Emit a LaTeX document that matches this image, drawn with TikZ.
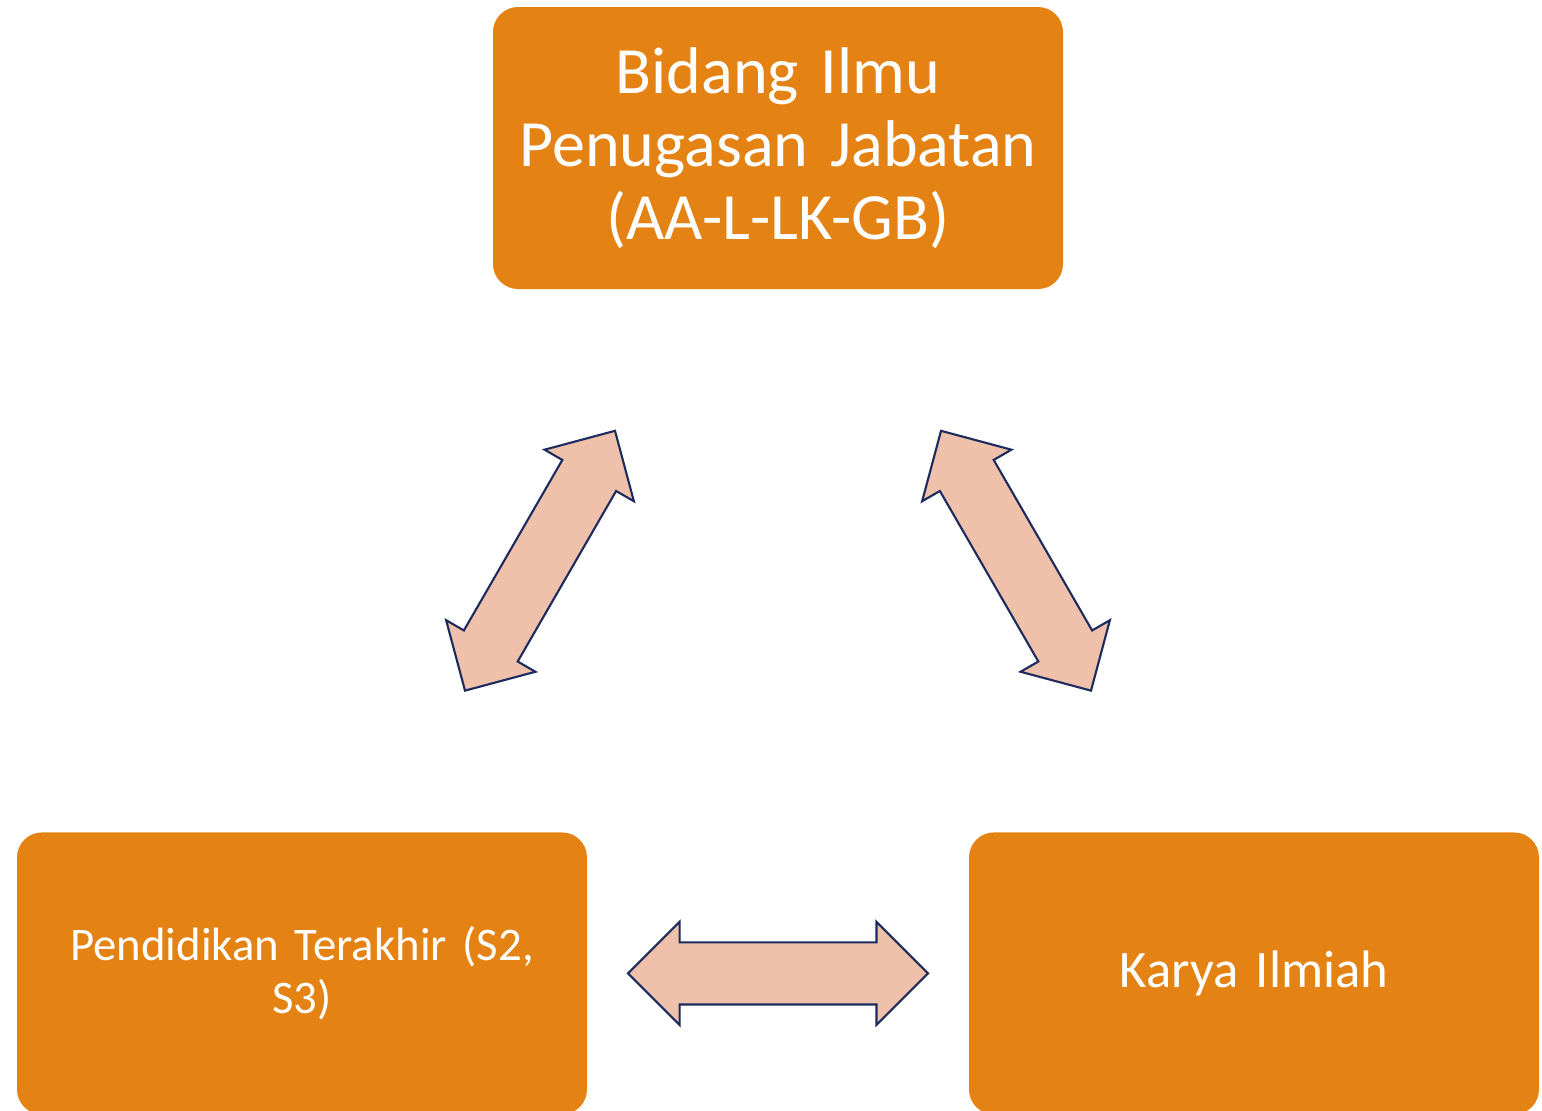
\documentclass[tikz,border=0pt]{standalone}
\usepackage{fontspec}
\setmainfont{Carlito}[WordSpace=0.8]
\usepackage{xcolor}
\usepackage{tikz}
\usetikzlibrary{shapes.arrows, positioning, calc}
\definecolor{boxorange}{RGB}{228,130,19}
\definecolor{arrowfill}{RGB}{239,193,170}
\definecolor{arrowline}{RGB}{28,42,94}
\tikzset{
    topic/.style={
        rectangle,
        draw=none,
        fill=boxorange,
        rounded corners=0.25cm,
        minimum width=5.7cm,
        minimum height=2.82cm,
        text width=5.4cm,
        align=center,
        text=white,
        inner sep=0pt
    },
    link/.style={
        double arrow,
        draw=arrowline,
        line width=0.6pt,
        fill=arrowfill,
        minimum height=3cm,
        double arrow head extend=0.205cm,
        double arrow tip angle=90,
        inner xsep=0pt,
        inner ysep=0.3cm
    }
}
\begin{document}
\begin{tikzpicture}

\useasboundingbox (0,0) rectangle (15.42,-11.10);

% Top box
\node[topic, font=\fontsize{18.8}{20.8}\selectfont] (bidang) at (7.78,-1.48)
    {Bidang Ilmu\\Penugasan Jabatan\\(AA-L-LK-GB)};

% Bottom boxes
\node[topic, below=5.42cm of bidang, xshift=-4.76cm, font=\fontsize{13.3}{15.2}\selectfont] (pendidikan)
    {Pendidikan Terakhir (S2,\\S3)};
\node[topic, below=5.42cm of bidang, xshift=4.76cm, font=\fontsize{15}{18}\selectfont] (karya)
    {Karya Ilmiah};

% Double arrows
\node[link, rotate=60] (linkL) at ($(bidang)!0.5!(pendidikan)$) {};
\node[link, rotate=-60] (linkR) at ($(bidang)!0.5!(karya)$) {};
\node[link] (linkB) at ($(pendidikan.east)!0.5!(karya.west)$) {};

\end{tikzpicture}
\end{document}
